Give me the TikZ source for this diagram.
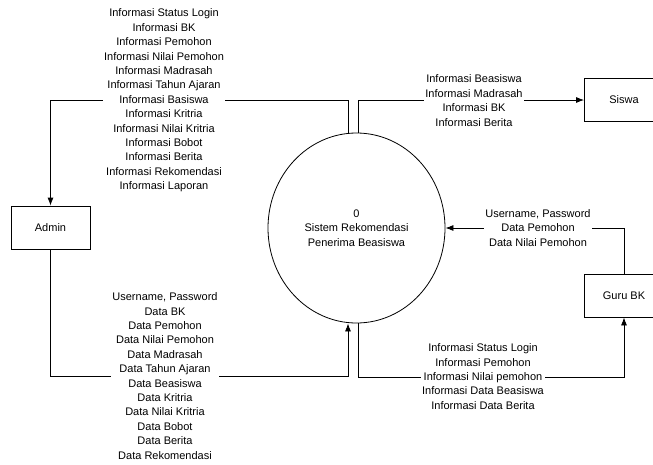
\documentclass[tikz,border=0pt]{standalone}
\usepackage{fontspec}
\setmainfont{Liberation Sans}
\usetikzlibrary{shapes.geometric,arrows.meta}

\tikzset{
  entitas/.style={draw, line width=0.8pt, minimum width=79pt, minimum height=43pt, inner sep=0pt, font=\fontsize{11}{14.4}\selectfont},
  proses/.style={draw, ellipse, line width=0.8pt, minimum width=177pt, minimum height=190pt, inner sep=0pt, align=center, font=\fontsize{11}{14.4}\selectfont},
  aliran/.style={line width=0.8pt},
  teks/.style={fill=white, inner sep=1pt, align=center, font=\fontsize{11}{14.4}\selectfont}
}

\begin{document}
\begin{tikzpicture}[x=1pt,y=-1pt,>={Latex[length=8pt,width=6pt]}]
\useasboundingbox (0,0) rectangle (653,464);

%Entitas dan Proses
\node[entitas] (admin) at (50.5,227.5) {Admin};
\node[entitas] (siswa) at (624,100) {Siswa};
\node[entitas] (guru) at (624,295.5) {Guru BK};
\node[proses] (sys) at (356.5,228) {0\\Sistem Rekomendasi\\Penerima Beasiswa};

%Titik belok
\coordinate (tl) at (348,100);
\coordinate (tr) at (358,100);
\coordinate (bl) at (348,376);
\coordinate (br) at (358,377);

%Aliran data
\draw[aliran,->] (sys.north -| tl) -- (tl) -| (admin.north);
\draw[aliran,->] (sys.north -| tr) |- (siswa.west);
\draw[aliran,->] (guru.north) |- (sys.east);
\draw[aliran,->] (admin.south) |- (bl) -- (sys.south -| bl);
\draw[aliran,->] (sys.south -| br) -- (br) -| (guru.south);

%Label aliran
\node[teks] (infoadmin) at (164,100.5) {Informasi Status Login\\Informasi BK\\Informasi Pemohon\\Informasi Nilai Pemohon\\Informasi Madrasah\\Informasi Tahun Ajaran\\Informasi Basiswa\\Informasi Kritria\\Informasi Nilai Kritria\\Informasi Bobot\\Informasi Berita\\Informasi Rekomendasi\\Informasi Laporan};
\node[teks] (dataadmin) at (165,376) {Username, Password\\Data BK\\Data Pemohon\\Data Nilai Pemohon\\Data Madrasah\\Data Tahun Ajaran\\Data Beasiswa\\Data Kritria\\Data Nilai Kritria\\Data Bobot\\Data Berita\\Data Rekomendasi};
\node[teks] (infosiswa) at (474,100.5) {Informasi Beasiswa\\Informasi Madrasah\\Informasi BK\\Informasi Berita};
\node[teks] (dataguru) at (538,228) {Username, Password\\Data Pemohon\\Data Nilai Pemohon};
\node[teks] (infoguru) at (483,376.5) {Informasi Status Login\\Informasi Pemohon\\Informasi Nilai pemohon\\Informasi Data Beasiswa\\Informasi Data Berita};

\end{tikzpicture}
\end{document}
